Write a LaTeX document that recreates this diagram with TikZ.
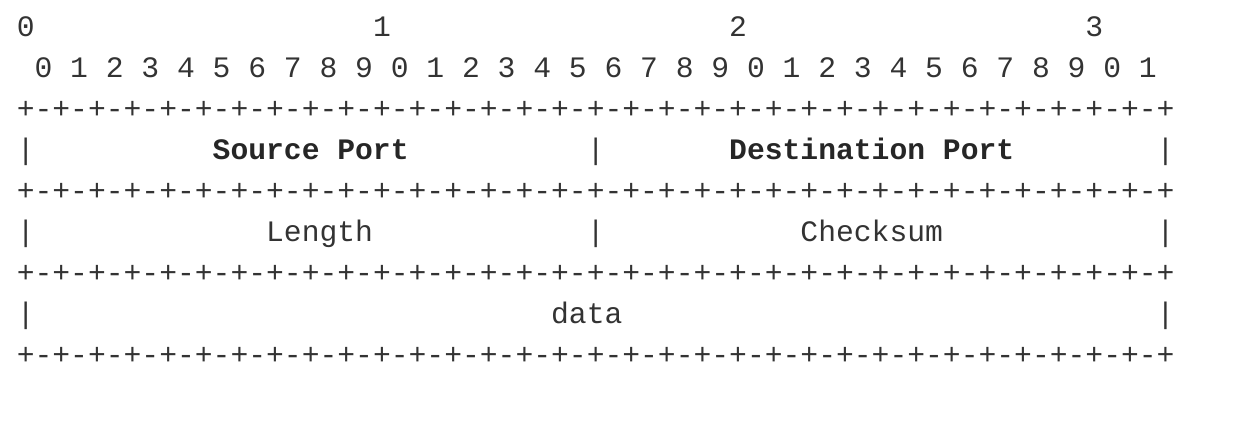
\documentclass[tikz,border=0pt]{standalone}
\usepackage{fontspec}
\newfontfamily\monofont{Liberation Mono}
\usepackage{tikz}
\definecolor{ink}{HTML}{333333}

\begin{document}
\begin{tikzpicture}[
    x=8.905pt, y=-20.5pt,
    ch/.style={anchor=base, inner sep=0pt, text=ink,
      font=\monofont\fontsize{14.84pt}{18pt}\selectfont},
    head/.style={ch, text=black!85,
      font=\monofont\bfseries\fontsize{14.84pt}{18pt}\selectfont}
    ]
    \useasboundingbox (-1.443, -0.895) rectangle (67.84, 9.349);
    % octet and bit numbers
    \foreach \i in {0,...,3}
      \node[ch] (oct\i) at (20*\i, 0) {\i};
    \foreach \c [evaluate=\c as \dig using {int(mod(\c,10))}] in {0,...,31}
      \node[ch] (bit\c) at (2*\c+1, 1) {\dig};
    % border lines
    \foreach \r in {2,4,6,8} {
      \foreach \c in {0,2,...,64}
        \node[ch] (plus-\r-\c) at (\c, \r) {+};
      \foreach \c in {1,3,...,63}
        \node[ch] (dash-\r-\c) at (\c, \r) {-};
    }
    % field rows
    \foreach \r in {3,5}
      \foreach \c in {0,32,64}
        \node[ch] (bar-\r-\c) at (\c, \r) {|};
    \node[ch] (bar-7-0) at (0, 7) {|};
    \node[ch] (bar-7-64) at (64, 7) {|};
    \node[head] (src) at (16, 3) {Source Port};
    \node[head] (dst) at (47.5, 3) {Destination Port};
    \node[ch] (len) at (16.5, 5) {Length};
    \node[ch] (chk) at (47.5, 5) {Checksum};
    \node[ch] (data) at (31.5, 7) {data};
  \end{tikzpicture}
\end{document}
